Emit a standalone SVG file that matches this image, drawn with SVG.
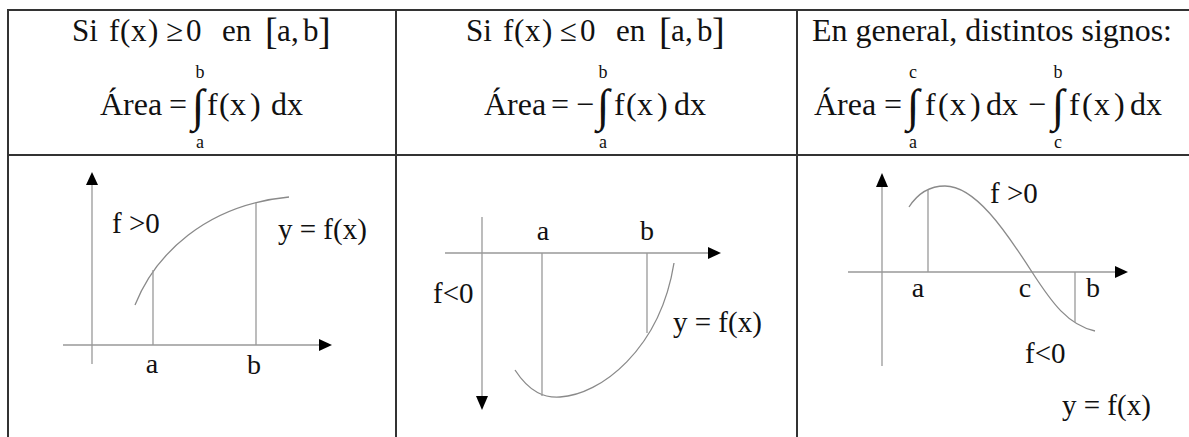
<svg xmlns="http://www.w3.org/2000/svg" width="1189" height="437" viewBox="0 0 1189 437">
<style>
.t{font-family:"Liberation Serif","Times New Roman",serif;fill:#111}
.h{font-size:31px}
.h2{font-size:32px}
.lim{font-size:18px;text-anchor:middle}
.int{font-size:46px;text-anchor:middle}
.br{font-size:38px}
.g{font-size:29px}
.gl{font-size:28px;text-anchor:middle}
.grid{stroke:#333;stroke-width:2;fill:none}
.ax{stroke:#999;stroke-width:1.3;fill:none}
.cv{stroke:#8a8a8a;stroke-width:1.3;fill:none}
.ah{fill:#000}
</style>
<rect width="1189" height="437" fill="#fff"/>
<g id="table" class="grid">
<line x1="7" y1="10" x2="1189" y2="10"/>
<line x1="7" y1="155" x2="1189" y2="155"/>
<line x1="8" y1="10" x2="8" y2="437"/>
<line x1="396" y1="10" x2="396" y2="437"/>
<line x1="797" y1="10" x2="797" y2="437"/>
</g>
<g id="header1" class="t">
<text class="h" y="41"><tspan x="72">Si</tspan><tspan x="109">f</tspan><tspan x="120">(</tspan><tspan x="131">x</tspan><tspan x="148">)</tspan><tspan x="166">≥</tspan><tspan x="186">0</tspan><tspan x="222">en</tspan><tspan class="br" x="265" dy="3">[</tspan><tspan x="277" dy="-3">a</tspan><tspan x="291">,</tspan><tspan x="303">b</tspan><tspan class="br" x="318" dy="3">]</tspan></text>
<text class="h2" y="115"><tspan x="100">Área</tspan><tspan x="169">=</tspan><tspan x="207">f</tspan><tspan x="219">(</tspan><tspan x="230">x</tspan><tspan x="250">)</tspan><tspan x="271">dx</tspan></text>
<text class="int" x="198" y="121">∫</text>
<text class="lim" x="200" y="78">b</text>
<text class="lim" x="200" y="148">a</text>
</g>
<g id="header2" class="t">
<text class="h" y="41"><tspan x="466">Si</tspan><tspan x="503">f</tspan><tspan x="514">(</tspan><tspan x="525">x</tspan><tspan x="542">)</tspan><tspan x="560">≤</tspan><tspan x="580">0</tspan><tspan x="616">en</tspan><tspan class="br" x="659" dy="3">[</tspan><tspan x="671" dy="-3">a</tspan><tspan x="685">,</tspan><tspan x="697">b</tspan><tspan class="br" x="712" dy="3">]</tspan></text>
<text class="h2" y="115"><tspan x="484">Área</tspan><tspan x="551">=</tspan><tspan x="576">−</tspan><tspan x="614">f</tspan><tspan x="626">(</tspan><tspan x="637">x</tspan><tspan x="657">)</tspan><tspan x="674">dx</tspan></text>
<text class="int" x="603" y="121">∫</text>
<text class="lim" x="603" y="78">b</text>
<text class="lim" x="603" y="148">a</text>
</g>
<g id="header3" class="t">
<text class="h" x="812" y="41" textLength="360" lengthAdjust="spacingAndGlyphs">En general, distintos signos:</text>
<text class="h2" y="115"><tspan x="814">Área</tspan><tspan x="884">=</tspan><tspan x="925">f</tspan><tspan x="938">(</tspan><tspan x="950">x</tspan><tspan x="970">)</tspan><tspan x="986">dx</tspan><tspan x="1028">−</tspan><tspan x="1069">f</tspan><tspan x="1082">(</tspan><tspan x="1094">x</tspan><tspan x="1114">)</tspan><tspan x="1130">dx</tspan></text>
<text class="int" x="913" y="121">∫</text>
<text class="int" x="1058" y="121">∫</text>
<text class="lim" x="913" y="78">c</text>
<text class="lim" x="913" y="148">a</text>
<text class="lim" x="1058" y="78">b</text>
<text class="lim" x="1058" y="148">c</text>
</g>
<g id="graph1">
<line class="ax" x1="92" y1="184" x2="92" y2="364"/>
<line class="ax" x1="63" y1="345" x2="321" y2="345"/>
<polygon class="ah" points="92,172 86,185 98,185"/>
<polygon class="ah" points="332,345 319,339 319,351"/>
<path class="cv" d="M135,305 C155,255 205,205 289,197"/>
<line class="ax" x1="153" y1="270" x2="153" y2="345"/>
<line class="ax" x1="256" y1="203" x2="256" y2="345"/>
<text class="t g" x="112" y="233">f &gt;0</text>
<text class="t g" x="278" y="239">y = f(x)</text>
<text class="t gl" x="152" y="373">a</text>
<text class="t gl" x="254" y="374">b</text>
</g>
<g id="graph2">
<line class="ax" x1="445" y1="253" x2="710" y2="253"/>
<line class="ax" x1="482" y1="217" x2="482" y2="397"/>
<polygon class="ah" points="721,253 708,247 708,259"/>
<polygon class="ah" points="482,410 476,396 488,396"/>
<path class="cv" d="M515,370 C530,393 545,398 560,397 C600,395 660,350 674,263"/>
<line class="ax" x1="542" y1="253" x2="542" y2="396"/>
<line class="ax" x1="647" y1="253" x2="647" y2="333"/>
<text class="t gl" x="543" y="240">a</text>
<text class="t gl" x="647" y="240">b</text>
<text class="t g" x="433" y="303">f&lt;0</text>
<text class="t g" x="673" y="332">y = f(x)</text>
</g>
<g id="graph3">
<line class="ax" x1="882" y1="186" x2="882" y2="366"/>
<line class="ax" x1="848" y1="272" x2="1117" y2="272"/>
<polygon class="ah" points="882,173 876,187 888,187"/>
<polygon class="ah" points="1128,272 1115,266 1115,278"/>
<path class="cv" d="M909,207 C918,193 930,186 945,186 C975,186 1005,230 1032,272 C1052,303 1068,325 1095,331"/>
<line class="ax" x1="928" y1="190" x2="928" y2="272"/>
<line class="ax" x1="1075" y1="272" x2="1075" y2="322"/>
<text class="t g" x="990" y="203">f &gt;0</text>
<text class="t gl" x="918" y="297">a</text>
<text class="t gl" x="1025" y="297">c</text>
<text class="t gl" x="1093" y="297">b</text>
<text class="t g" x="1025" y="363">f&lt;0</text>
<text class="t g" x="1062" y="415">y = f(x)</text>
</g>
</svg>
